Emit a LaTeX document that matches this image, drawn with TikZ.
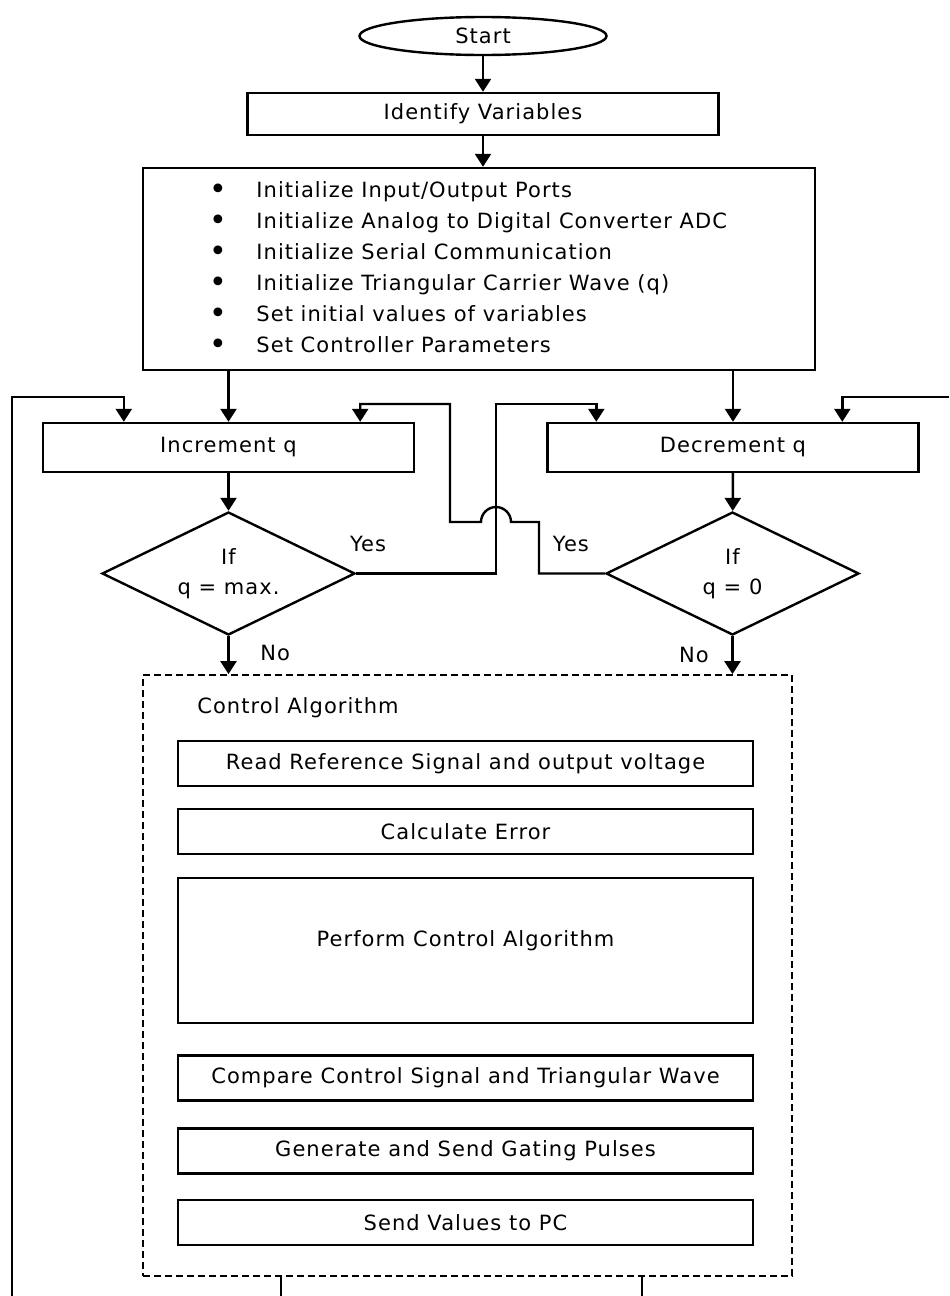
\documentclass[tikz,border=0pt]{standalone}
\usepackage{fontspec}
\setmainfont[LetterSpace=5]{DejaVu Sans}
\usetikzlibrary{arrows.meta, shapes.geometric, calc}

\newcommand{\initbullet}{\makebox[23.5pt][l]{\fontsize{15}{15}\selectfont\raisebox{-1pt}{\textbullet}}}

\tikzset{
	box/.style = {draw, line width=1.2pt, inner sep=0pt, minimum width=287.5pt, minimum height=22.5pt},
	decision/.style = {draw, diamond, line width=1.2pt, inner sep=0pt, shape aspect=2, minimum width=126.5pt, minimum height=61.5pt, align=center, font=\fontsize{10.5}{15}\selectfont},
	flow/.style = {line width=1.2pt, -{Triangle[length=6.5pt, width=8pt]}},
	wire/.style = {line width=1.2pt},
}

\begin{document}
\begin{tikzpicture}[x=0.5pt, y=-0.5pt, font=\fontsize{10.5}{12}\selectfont]
			\useasboundingbox (0,0) rectangle (949,1296);

			\coordinate (loopL) at (12,1296);
			\coordinate (loopR) at (949,397);
			\coordinate (outL) at (281,1296);
			\coordinate (outR) at (642,1296);

			\begin{scope}
				\node [draw, ellipse, line width=1.2pt, inner sep=0pt, minimum width=123.5pt, minimum height=19pt] (start) at (483,36) {Start};
				\node [box, minimum width=235.5pt, minimum height=21pt] (ident) at (483,114) {Identify Variables};
				\node [box, minimum width=336pt, minimum height=101pt] (init) at (479,269) {};
				\node [anchor=north west, align=left, inner sep=0pt, font=\fontsize{10.5}{15.5}\selectfont] (initlist) at (209,181) {
					\initbullet Initialize Input/Output Ports\\
					\initbullet Initialize Analog to Digital Converter ADC\\
					\initbullet Initialize Serial Communication\\
					\initbullet Initialize Triangular Carrier Wave (q)\\
					\initbullet Set initial values of variables\\
					\initbullet Set Controller Parameters};
			\end{scope}

			\begin{scope}
				\node [box, minimum width=185.5pt, minimum height=24.5pt] (inc) at (228.5,447.5) {Increment q};
				\node [box, minimum width=185.5pt, minimum height=24.5pt] (dec) at (733,447.5) {Decrement q};
				\node [decision] (dmax) at (228.5,573.5) {If\\q = max.};
				\node [decision] (dzero) at (732.5,573.5) {If\\q = 0};
			\end{scope}

			\begin{scope}
				\node [draw, dashed, dash pattern=on 3.5pt off 2pt, line width=0.9pt, minimum width=324.5pt, minimum height=300.5pt] (ctrl) at (467.5,975.5) {};
				\node [anchor=west, inner sep=0pt] (ctrltitle) at (197,708) {Control Algorithm};
				\node [box] (read) at (465.5,763.5) {Read Reference Signal and output voltage};
				\node [box] (err) at (465.5,831.5) {Calculate Error};
				\node [box, minimum height=72.5pt] (perform) at (465.5,950.5) {\raisebox{5pt}[\height][\depth]{Perform Control Algorithm}};
				\node [box] (compare) at (465.5,1078) {Compare Control Signal and Triangular Wave};
				\node [box] (gate) at (465.5,1151) {Generate and Send Gating Pulses};
				\node [box] (send) at (465.5,1222.5) {Send Values to PC};
			\end{scope}

			\draw [flow] (start) -- (ident);
			\draw [flow] (ident) -- (ident |- init.north);
			\draw [flow] (init.south -| inc.north) -- (inc.north);
			\draw [flow] (init.south -| dec.north) -- (dec.north);
			\draw [flow] (inc) -- (dmax);
			\draw [flow] (dec) -- (dzero);
			\draw [flow] (dmax.south) -- (dmax.south |- ctrl.north) node [midway, right=12pt, yshift=1pt] {No};
			\draw [flow] (dzero.south) -- (dzero.south |- ctrl.north) node [midway, left=8pt] {No};

			\draw [flow] (dmax.east) node [above right, xshift=-7pt, yshift=7pt] {Yes} -- (496,573.5) -- (496,404) -| ($(dec.north west)+(50,0)$);
			\draw [flow] (dzero.west) node [above left, xshift=-4pt, yshift=7pt] {Yes} -- (539,573.5) -- (539,522) -- (511,522) arc [start angle=0, end angle=180, radius=7.5pt] -- (450,522) -- (450,404) -| ($(inc.north east)+(-55,0)$);

			\draw [flow] (loopL) -- (12,397) -| ($(inc.north west)+(82,0)$);
			\draw [flow] (loopR) -| ($(dec.north west)+(296,0)$);
			\draw [wire] (ctrl.south -| outL) -- (outL);
			\draw [wire] (ctrl.south -| outR) -- (outR);
		\end{tikzpicture}
\end{document}
